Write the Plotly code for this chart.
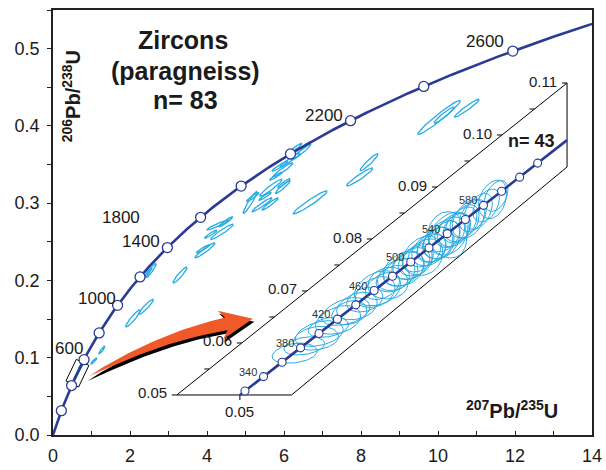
import numpy as np
import plotly.graph_objects as go

# ---------------------------------------------------------------------------
# U-Pb decay constants (1/yr)
L238 = 1.55125e-10
L235 = 9.8485e-10

# ---------------------------------------------------------------------------
# Figure geometry
FIG_W, FIG_H = 606, 470
MARGIN = dict(l=53, r=14, t=10, b=35)
X_RANGE = (0.0, 14.0)
Y_RANGE = (0.0, 0.55)

FONT = "Liberation Sans, Arial, sans-serif"
NAVY = "#2B3A94"
SKY = "#29ABE2"
ORANGE = "#F05A28"
INK = "#1a1a1a"

# ---------------------------------------------------------------------------
# Main concordia: age markers (Ma) and labelled ages with label anchors
MAIN_MARKER_AGES = [200, 400, 600, 800, 1000, 1200, 1400, 1600, 1800, 2000, 2200, 2400, 2600]
MAIN_LABEL_TEXT = ["600", "1000", "1400", "1800", "2200", "2600"]
MAIN_LABEL_X = [0.41, 1.14, 2.28, 1.76, 7.03, 11.23]
MAIN_LABEL_Y = [0.1125, 0.177, 0.250, 0.281, 0.414, 0.509]

# Main-panel analyses (older grains): centre 207Pb/235U, centre 206Pb/238U,
# 2-sigma half-extent in x, 2-sigma half-extent in y, error correlation
MAIN_CX = [6.44, 6.16, 5.97, 5.90, 5.66, 5.97, 5.64, 5.43, 5.12, 5.19, 6.68, 6.00,
           4.29, 4.39, 4.10, 3.95, 3.90, 3.30, 2.55, 2.47, 2.08, 2.42, 1.06, 1.27,
           7.97, 8.21, 10.03, 10.16, 10.75, 6.29, 6.55, 5.79, 5.51, 4.49]
MAIN_CY = [0.366, 0.356, 0.343, 0.348, 0.320, 0.321, 0.299, 0.298, 0.301, 0.308, 0.301, 0.326,
           0.272, 0.263, 0.260, 0.239, 0.241, 0.207, 0.213, 0.210, 0.151, 0.166, 0.0957, 0.110,
           0.334, 0.353, 0.411, 0.414, 0.423, 0.371, 0.374, 0.335, 0.309, 0.276]
MAIN_EX = [0.26, 0.26, 0.26, 0.21, 0.29, 0.19, 0.21, 0.26, 0.18, 0.16, 0.44, 0.16,
           0.29, 0.29, 0.16, 0.26, 0.17, 0.18, 0.13, 0.10, 0.19, 0.19, 0.08, 0.08,
           0.34, 0.23, 0.55, 0.26, 0.32, 0.18, 0.13, 0.16, 0.16, 0.18]
MAIN_EY = [0.0104, 0.0091, 0.0091, 0.0065, 0.0110, 0.0084, 0.0078, 0.0091, 0.0142, 0.0058, 0.0149, 0.0058,
           0.0065, 0.0097, 0.0052, 0.0097, 0.0052, 0.0103, 0.0091, 0.0065, 0.0110, 0.0097, 0.0040, 0.0050,
           0.0116, 0.0110, 0.0220, 0.0104, 0.0116, 0.0065, 0.0052, 0.0052, 0.0052, 0.0065]
MAIN_RHO = [0.96, 0.96, 0.95, 0.95, 0.95, 0.94, 0.95, 0.96, 0.95, 0.94, 0.96, 0.94,
            0.95, 0.95, 0.94, 0.95, 0.94, 0.93, 0.93, 0.93, 0.93, 0.93, 0.92, 0.92,
            0.95, 0.94, 0.97, 0.95, 0.96, 0.95, 0.94, 0.94, 0.94, 0.95]

# Young population (shown enlarged in the inset)
INSET_CX = [0.445, 0.460, 0.478, 0.498, 0.514, 0.532, 0.545, 0.558, 0.576, 0.588, 0.598,
            0.606, 0.612, 0.620, 0.625, 0.634, 0.638, 0.646, 0.650, 0.660, 0.662, 0.670,
            0.675, 0.682, 0.688, 0.694, 0.698, 0.705, 0.708, 0.716, 0.722, 0.729, 0.736,
            0.744, 0.752, 0.762, 0.778, 0.790, 0.796, 0.527, 0.484, 0.580, 0.706]
INSET_CY = [0.0595, 0.0612, 0.0630, 0.0655, 0.0672, 0.0690, 0.0705, 0.0720, 0.0738, 0.0752, 0.0760,
            0.0770, 0.0778, 0.0785, 0.0792, 0.0800, 0.0805, 0.0812, 0.0818, 0.0825, 0.0830, 0.0838,
            0.0842, 0.0850, 0.0855, 0.0862, 0.0868, 0.0873, 0.0878, 0.0885, 0.0890, 0.0898, 0.0905,
            0.0912, 0.0920, 0.0930, 0.0945, 0.0958, 0.0965, 0.0690, 0.0640, 0.0745, 0.0875]
INSET_EX = [0.030, 0.028, 0.032, 0.030, 0.035, 0.028, 0.033, 0.030, 0.034, 0.030, 0.036,
            0.030, 0.034, 0.032, 0.038, 0.030, 0.036, 0.033, 0.030, 0.040, 0.032, 0.034,
            0.030, 0.036, 0.033, 0.038, 0.032, 0.045, 0.032, 0.035, 0.030, 0.034, 0.032,
            0.036, 0.030, 0.032, 0.030, 0.035, 0.028, 0.038, 0.035, 0.040, 0.042]
INSET_EY = [0.0022, 0.0020, 0.0025, 0.0022, 0.0030, 0.0024, 0.0028, 0.0025, 0.0030, 0.0027, 0.0028,
            0.0025, 0.0030, 0.0026, 0.0032, 0.0024, 0.0030, 0.0027, 0.0025, 0.0033, 0.0026, 0.0028,
            0.0024, 0.0030, 0.0026, 0.0032, 0.0027, 0.0030, 0.0025, 0.0028, 0.0024, 0.0029, 0.0026,
            0.0030, 0.0025, 0.0027, 0.0025, 0.0026, 0.0022, 0.0030, 0.0028, 0.0034, 0.0035]
INSET_RHO = [0.60, 0.65, 0.60, 0.70, 0.70, 0.65, 0.70, 0.70, 0.70, 0.75, 0.60,
             0.70, 0.72, 0.70, 0.70, 0.65, 0.75, 0.70, 0.70, 0.65, 0.75, 0.70,
             0.70, 0.72, 0.68, 0.70, 0.75, 0.50, 0.70, 0.72, 0.70, 0.75, 0.70,
             0.70, 0.72, 0.70, 0.72, 0.65, 0.70, 0.75, 0.70, 0.70, 0.70]

# Inset: 206Pb/238U span, age markers and labels
INSET_Y = (0.05, 0.11)
INSET_TICKS = [0.05, 0.055, 0.06, 0.065, 0.07, 0.075, 0.08, 0.085, 0.09, 0.095, 0.10, 0.105, 0.11]
INSET_TICK_LABELS = ["0.05", "0.06", "0.07", "0.08", "0.09", "0.10", "0.11"]
INSET_MARKER_AGES = [320, 340, 360, 380, 400, 420, 440, 460, 480, 500, 520, 540, 560, 580, 600, 620, 640]
INSET_LABEL_AGES = [340, 380, 420, 460, 500, 540, 580]

# Inset frame (distorted panel) corners in main-axis coordinates:
# bottom-left, bottom-right, top-left, top-right
INSET_CORNERS = [(3.215, 0.0518), (6.196, 0.0518), (13.352, 0.4555), (13.352, 0.3468)]
INSET_U0, INSET_U1, INSET_DX = 0.55, 0.13, 0.12

# Zoom box around the young population on the main concordia
ZOOM_BOX_Y = (0.066, 0.094)

# Arrow from zoom box to inset
ARROW_TAIL = (0.95, 0.0763)
ARROW_TIP = (5.19, 0.1504)


# ---------------------------------------------------------------------------
PLOT_W = FIG_W - MARGIN["l"] - MARGIN["r"]
PLOT_H = FIG_H - MARGIN["t"] - MARGIN["b"]


def to_px(x, y):
    x = np.asarray(x, float)
    y = np.asarray(y, float)
    px = MARGIN["l"] + (x - X_RANGE[0]) / (X_RANGE[1] - X_RANGE[0]) * PLOT_W
    py = MARGIN["t"] + (Y_RANGE[1] - y) / (Y_RANGE[1] - Y_RANGE[0]) * PLOT_H
    return px, py


def from_px(px, py):
    px = np.asarray(px, float)
    py = np.asarray(py, float)
    x = X_RANGE[0] + (px - MARGIN["l"]) / PLOT_W * (X_RANGE[1] - X_RANGE[0])
    y = Y_RANGE[1] - (py - MARGIN["t"]) / PLOT_H * (Y_RANGE[1] - Y_RANGE[0])
    return x, y


def concordia(age_ma):
    t = np.asarray(age_ma, float) * 1e6
    return np.expm1(L235 * t), np.expm1(L238 * t)


def conc_x(y):
    return (1.0 + np.asarray(y, float)) ** (L235 / L238) - 1.0


def ellipse(cx, cy, ex, ey, rho, n=72):
    t = np.linspace(0, 2 * np.pi, n)
    s = np.sqrt(1.0 - rho ** 2)
    return cx + ex * np.cos(t), cy + ey * (rho * np.cos(t) + s * np.sin(t))


def inset_local(u, v):
    (blx, bly), (brx, bry), (tlx, tly), (trx, try_) = INSET_CORNERS
    u = np.asarray(u, float)
    v = np.asarray(v, float)
    x = (1 - u) * (1 - v) * blx + u * (1 - v) * brx + (1 - u) * v * tlx + u * v * trx
    y = (1 - u) * (1 - v) * bly + u * (1 - v) * bry + (1 - u) * v * tly + u * v * try_
    return x, y


def inset_xy(X, Y):
    X = np.asarray(X, float)
    Y = np.asarray(Y, float)
    v = (Y - INSET_Y[0]) / (INSET_Y[1] - INSET_Y[0])
    u = INSET_U0 + INSET_U1 * v + (X - conc_x(Y)) / INSET_DX
    return inset_local(u, v)


def joined(parts):
    xs, ys = [], []
    for x, y in parts:
        xs += list(x) + [None]
        ys += list(y) + [None]
    return xs, ys


fig = go.Figure()

# ---------------------------------------------------------------------------
# Arrow (shadow first, then body)
def arrow_polygon(shift=(0.0, 0.0), extra_tail=0.0):
    tx, ty = to_px(*ARROW_TAIL)
    hx, hy = to_px(*ARROW_TIP)
    T = np.array([float(tx), float(ty)])
    tip = np.array([float(hx), float(hy)])
    ang = np.deg2rad(11.0)
    d = np.array([np.cos(ang), -np.sin(ang)])
    head_len, head_half, barb_back, body_half = 27.0, 14.5, 6.0, 6.5
    H = tip - head_len * d
    C = H - 68.0 * d
    T = T - extra_tail * (C - T) / np.linalg.norm(C - T)
    s = np.linspace(0, 1, 40)[:, None]
    B = (1 - s) ** 2 * T + 2 * (1 - s) * s * C + s ** 2 * H
    tan = 2 * (1 - s) * (C - T) + 2 * s * (H - C)
    tan = tan / np.linalg.norm(tan, axis=1, keepdims=True)
    nrm = np.column_stack([tan[:, 1], -tan[:, 0]])
    w = body_half * s[:, 0] ** 0.7
    upper = B + w[:, None] * nrm
    lower = B - w[:, None] * nrm
    nH = np.array([d[1], -d[0]])
    head = np.array([H - barb_back * d + head_half * nH, tip, H - barb_back * d - head_half * nH])
    poly = np.vstack([upper, head, lower[::-1]]) + np.array(shift)
    return from_px(poly[:, 0], poly[:, 1])


sx, sy = arrow_polygon(shift=(1.5, 3.0), extra_tail=4.0)
fig.add_trace(go.Scatter(x=sx, y=sy, mode="lines", fill="toself", fillcolor="black",
                         line=dict(width=0, color="black"), hoverinfo="skip"))
ax_, ay_ = arrow_polygon()
fig.add_trace(go.Scatter(x=ax_, y=ay_, mode="lines", fill="toself", fillcolor=ORANGE,
                         line=dict(width=0, color=ORANGE), hoverinfo="skip"))

# ---------------------------------------------------------------------------
# Main panel ellipses
ex_, ey_ = joined([ellipse(*p) for p in zip(MAIN_CX, MAIN_CY, MAIN_EX, MAIN_EY, MAIN_RHO)])
fig.add_trace(go.Scatter(x=ex_, y=ey_, mode="lines", line=dict(color=SKY, width=1.3),
                         hoverinfo="skip"))
ex_, ey_ = joined([ellipse(*p) for p in zip(INSET_CX, INSET_CY, INSET_EX, INSET_EY, INSET_RHO)])
fig.add_trace(go.Scatter(x=ex_, y=ey_, mode="lines", line=dict(color=SKY, width=1.0),
                         hoverinfo="skip"))

# Zoom box
ya, yb = ZOOM_BOX_Y
pa = np.array(to_px(conc_x(ya), ya), float)
pb = np.array(to_px(conc_x(yb), yb), float)
dirv = (pb - pa) / np.linalg.norm(pb - pa)
nv = np.array([dirv[1], -dirv[0]]) * 7.0
box = np.array([pa + nv, pb + nv, pb - nv, pa - nv, pa + nv])
bx, by = from_px(box[:, 0], box[:, 1])
fig.add_trace(go.Scatter(x=bx, y=by, mode="lines", line=dict(color="black", width=1),
                         hoverinfo="skip"))

# Main concordia curve and markers
t_end = np.log1p(X_RANGE[1]) / L235 / 1e6
cx, cy = concordia(np.linspace(0, t_end, 500))
fig.add_trace(go.Scatter(x=cx, y=cy, mode="lines", line=dict(color=NAVY, width=2.6),
                         hoverinfo="skip"))
mx, my = concordia(MAIN_MARKER_AGES)
fig.add_trace(go.Scatter(x=mx, y=my, mode="markers",
                         marker=dict(size=10, color="white", line=dict(color=NAVY, width=1.3)),
                         hoverinfo="skip"))

# ---------------------------------------------------------------------------
# Inset frame
frame_uv = [(0, 0), (1, 0), (1, 1), (0, 1), (0, 0)]
fx, fy = inset_local([p[0] for p in frame_uv], [p[1] for p in frame_uv])
fig.add_trace(go.Scatter(x=fx, y=fy, mode="lines", line=dict(color="black", width=1),
                         hoverinfo="skip"))

# Inset ticks along the slanted 206Pb/238U edge
tick_len = 5.0 / PLOT_W * (X_RANGE[1] - X_RANGE[0])
tparts = []
for yv in INSET_TICKS:
    v = (yv - INSET_Y[0]) / (INSET_Y[1] - INSET_Y[0])
    x0, y0 = inset_local(0.0, v)
    tparts.append(([float(x0) - tick_len, float(x0)], [float(y0), float(y0)]))
# tick where the concordia meets the lower edge
bx0, by0 = inset_xy(conc_x(INSET_Y[0]), INSET_Y[0])
tick_dy = 5.0 / PLOT_H * (Y_RANGE[1] - Y_RANGE[0])
tparts.append(([float(bx0), float(bx0)], [float(by0), float(by0) - tick_dy]))
tx_, ty_ = joined(tparts)
fig.add_trace(go.Scatter(x=tx_, y=ty_, mode="lines", line=dict(color="black", width=1),
                         hoverinfo="skip"))

# Inset ellipses
parts = []
for p in zip(INSET_CX, INSET_CY, INSET_EX, INSET_EY, INSET_RHO):
    exx, eyy = ellipse(*p)
    parts.append(inset_xy(exx, eyy))
ix, iy = joined(parts)
fig.add_trace(go.Scatter(x=ix, y=iy, mode="lines", line=dict(color=SKY, width=1.0),
                         hoverinfo="skip"))

# Inset concordia
yy = np.linspace(INSET_Y[0], INSET_Y[1], 200)
icx, icy = inset_xy(conc_x(yy), yy)
fig.add_trace(go.Scatter(x=icx, y=icy, mode="lines", line=dict(color=NAVY, width=2.6),
                         hoverinfo="skip"))
ax0, ay0 = concordia(INSET_MARKER_AGES)
imx, imy = inset_xy(ax0, ay0)
fig.add_trace(go.Scatter(x=imx, y=imy, mode="markers",
                         marker=dict(size=8, color="white", line=dict(color=NAVY, width=1.1)),
                         hoverinfo="skip"))

# ---------------------------------------------------------------------------
annotations = []


def note(x, y, text, size, bold=False, **kw):
    font = dict(family=FONT, size=size, color=kw.pop("color", INK))
    if bold:
        font["weight"] = "bold"
    d = dict(x=x, y=y, xref="x", yref="y", text=text, showarrow=False, font=font)
    d.update(kw)
    annotations.append(d)


note(3.37, 0.511, "Zircons", 25, bold=True)
note(3.43, 0.4705, "(paragneiss)", 25, bold=True)
note(3.43, 0.4335, "n= 83", 25, bold=True)
note(0.47, 0.4385, "<sup>206</sup>Pb/<sup>238</sup>U", 20, bold=True, textangle=-90)
note(11.93, 0.033, "<sup>207</sup>Pb/<sup>235</sup>U", 20, bold=True)

for txt, lx, ly in zip(MAIN_LABEL_TEXT, MAIN_LABEL_X, MAIN_LABEL_Y):
    note(lx, ly, txt, 17)

# inset tick labels
for lbl in INSET_TICK_LABELS:
    v = (float(lbl) - INSET_Y[0]) / (INSET_Y[1] - INSET_Y[0])
    x0, y0 = inset_local(0.0, v)
    note(float(x0), float(y0), lbl, 15, xanchor="right", xshift=-8, yshift=2)
note(float(bx0), float(by0), f"{INSET_Y[0]:.2f}", 15, yanchor="top", yshift=-6)

# inset age labels
lx, ly = inset_xy(*concordia(INSET_LABEL_AGES))
for age, x0, y0 in zip(INSET_LABEL_AGES, lx, ly):
    note(float(x0), float(y0), str(age), 11, color="#333333",
         xanchor="right", xshift=-5, yshift=5)

note(12.42, 0.3805, "n= 43", 18, bold=True)

# ---------------------------------------------------------------------------
axis_common = dict(showgrid=False, zeroline=False, showline=True, mirror=True,
                   linecolor="#222222", linewidth=1.5, automargin=False,
                   tickfont=dict(family=FONT, size=18, color=INK))

fig.update_layout(
    width=FIG_W, height=FIG_H,
    margin=dict(l=MARGIN["l"], r=MARGIN["r"], t=MARGIN["t"], b=MARGIN["b"], autoexpand=False),
    paper_bgcolor="white", plot_bgcolor="white",
    showlegend=False,
    annotations=annotations,
    xaxis=dict(range=list(X_RANGE), tickmode="array", tickvals=list(range(0, 15, 2)),
               ticks="inside", ticklen=4, tickcolor="#222222", ticklabelstandoff=4,
               minor=dict(dtick=1, ticks="inside", ticklen=4, tickcolor="#222222"),
               **axis_common),
    yaxis=dict(range=list(Y_RANGE), tickmode="array", tickvals=[0, 0.1, 0.2, 0.3, 0.4, 0.5],
               tickformat=".1f", ticks="outside", ticklen=4, tickcolor="#222222",
               ticklabelstandoff=4,
               minor=dict(dtick=0.05, ticks="outside", ticklen=4, tickcolor="#222222"),
               **axis_common),
)

fig.write_html("out.html")
